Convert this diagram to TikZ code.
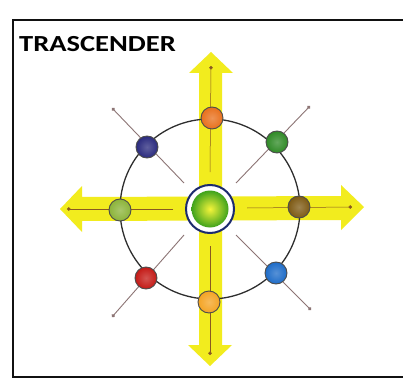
\documentclass[tikz,border=0pt]{standalone}
\usepackage{fontspec}
\setmainfont{Carlito}
\newfontfamily\titlefont[FakeStretch=1.24]{Carlito}
\usetikzlibrary{positioning, arrows.meta, calc}
\definecolor{inkK}{HTML}{111111}
\definecolor{inkG}{HTML}{2E2E2E}
\definecolor{spkD}{HTML}{8C7474}
\definecolor{spkA}{HTML}{8A5A20}
\definecolor{yelA}{HTML}{F2EC1E}
\definecolor{hubR}{HTML}{1C2A6E}
\definecolor{hubI}{HTML}{F4F43A}
\definecolor{hubO}{HTML}{3FA21C}
\definecolor{dotN}{HTML}{E8701C}
\definecolor{dotNE}{HTML}{2F8A26}
\definecolor{dotE}{HTML}{7E5A14}
\definecolor{dotSE}{HTML}{1E6CC8}
\definecolor{dotS}{HTML}{F4A424}
\definecolor{dotSW}{HTML}{C41A16}
\definecolor{dotW}{HTML}{8CB43A}
\definecolor{dotNW}{HTML}{2A2A7E}

\begin{document}
\begin{tikzpicture}[x=1pt, y=-1pt,
  dot/.style={circle, minimum size=22pt, inner sep=0pt, draw=inkK!75, line width=0.9pt,
    inner color=#1!75!white, outer color=#1},
  spoke/.style={spkD, line width=0.9pt, -{Circle[length=3.5pt]}},
  axspoke/.style={spkA, line width=0.5pt, -{Circle[length=3.5pt]}}]
\useasboundingbox (0,0) rectangle (403,387);
\fill[white] (0,0) rectangle (403,387);
\draw[inkK, line width=2.4pt] (403,20) -- (13,20) -- (13,377) -- (403,377);
\node[font=\titlefont\bfseries\fontsize{23}{23}\selectfont, anchor=base west, inner sep=0pt] (title) at (19,52) {TRASCENDER};
% yellow double arrows
\fill[yelA] (211,52) -- (233,73) -- (222,73) -- (222,345) -- (232,345) -- (210,366) -- (188,345) -- (199,345) -- (199,73) -- (189,73) -- cycle;
\fill[yelA] (60,209) -- (82,186) -- (82,197) -- (341,196) -- (341,185) -- (364,207) -- (341,230) -- (341,220) -- (82,221) -- (82,232) -- cycle;
% spokes
\coordinate (inNW) at (184,183);  \coordinate (outNW) at (112,108);
\coordinate (inNE) at (236,183);  \coordinate (outNE) at (310,106);
\coordinate (inSW) at (184,235);  \coordinate (outSW) at (112,317);
\coordinate (inSE) at (236,235);  \coordinate (outSE) at (311,310);
\coordinate (inN) at (210,172);   \coordinate (outN) at (211,66);
\coordinate (inS) at (210,246);   \coordinate (outS) at (210,355);
\coordinate (inW) at (173,209);   \coordinate (outW) at (67,209);
\coordinate (inE) at (247,208);   \coordinate (outE) at (352,207);
\draw[spoke] (inNW) -- (outNW);
\draw[spoke] (inNE) -- (outNE);
\draw[spoke] (inSW) -- (outSW);
\draw[spoke] (inSE) -- (outSE);
\draw[axspoke] (inN) -- (outN);
\draw[axspoke] (inS) -- (outS);
\draw[axspoke] (inW) -- (outW);
\draw[axspoke] (inE) -- (outE);
% ring
\coordinate (mid) at (210,209);
\draw[inkG, line width=1.3pt] (mid) circle[radius=90];
% dots on the ring
\node[dot=dotN] (pN) at (212,118) {};
\node[dot=dotNE] (pNE) at (277,142) {};
\node[dot=dotE] (pE) at (299,207) {};
\node[dot=dotSE] (pSE) at (276,273) {};
\node[dot=dotS] (pS) at (209,302) {};
\node[dot=dotSW] (pSW) at (146,278) {};
\node[dot=dotW] (pW) at (120,210) {};
\node[dot=dotNW] (pNW) at (147,147) {};
% hub
\node[circle, minimum size=48pt, inner sep=0pt, draw=hubR, line width=2pt, fill=white] (hub) at (mid) {};
\node[circle, minimum size=37pt, inner sep=0pt, inner color=hubI, outer color=hubO] (core) at (hub) {};
\end{tikzpicture}
\end{document}
